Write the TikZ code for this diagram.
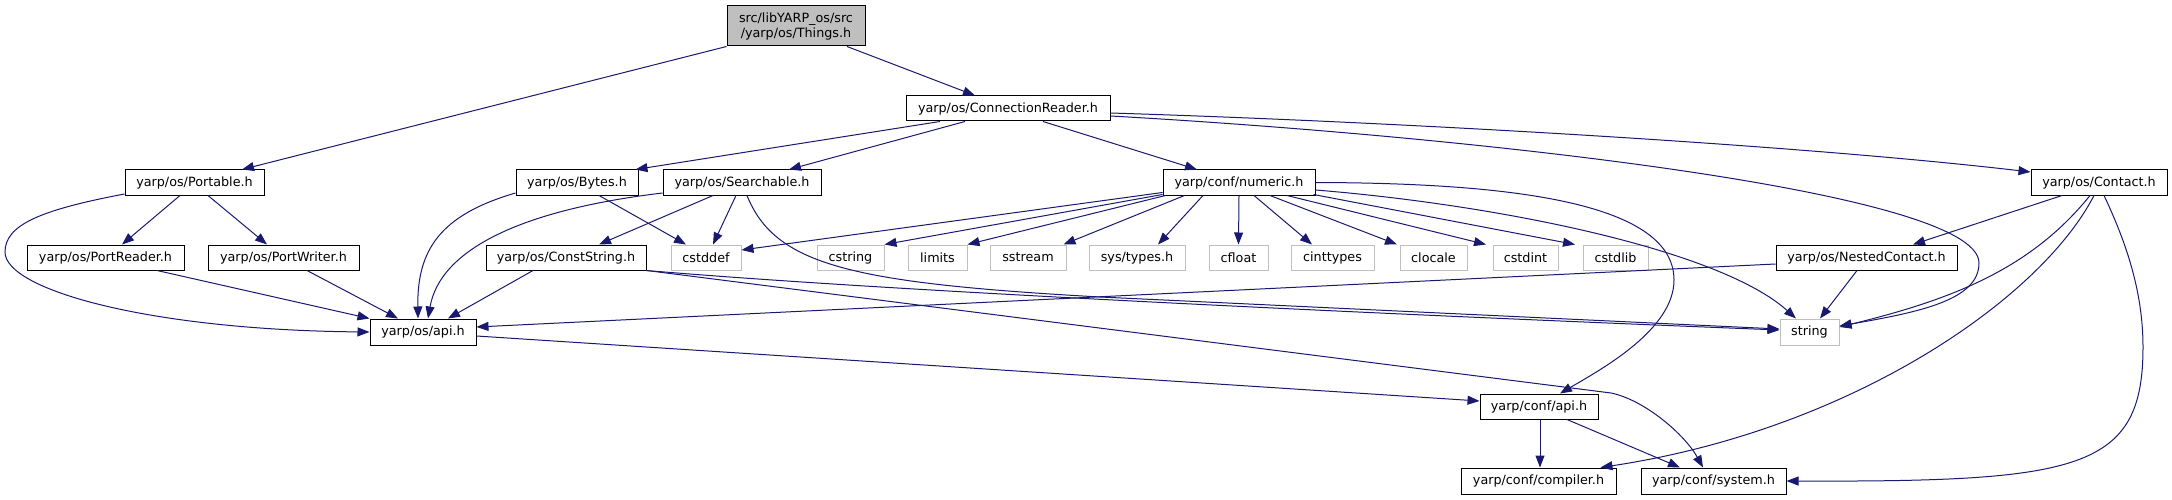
\documentclass[tikz,border=0pt]{standalone}
\usepackage{fontspec}
\setmainfont{DejaVu Sans}
\usetikzlibrary{arrows.meta,calc}
\definecolor{edgec}{HTML}{191970}
\definecolor{greyline}{HTML}{BFBFBF}
\begin{document}
\begin{tikzpicture}[x=1pt,y=-1pt,
  every node/.style={font=\fontsize{12.75}{15}\selectfont},
  nb/.style={draw=black, line width=1pt, rectangle, inner sep=0pt, minimum height=25pt, fill=white},
  gb/.style={nb, draw=greyline},
  e/.style={draw=edgec, line width=1pt, -{Triangle[length=12pt,width=9pt]}}]
\useasboundingbox (0,0) rectangle (2172,500);
% nodes
\node[nb, fill=greyline, minimum width=138pt, minimum height=40pt, align=center] (things) at (796,26) {src/libYARP\_os/src\\/yarp/os/Things.h};
\node[nb, minimum width=204pt] (cr) at (1008,108.5) {yarp/os/ConnectionReader.h};
\node[nb, minimum width=139pt] (portable) at (194.5,182.5) {yarp/os/Portable.h};
\node[nb, minimum width=122pt] (bytes) at (577,182.5) {yarp/os/Bytes.h};
\node[nb, minimum width=158pt] (searchable) at (742,182.5) {yarp/os/Searchable.h};
\node[nb, minimum width=152pt] (numeric) at (1239,182.5) {yarp/conf/numeric.h};
\node[nb, minimum width=136pt] (contact) at (2099,182.5) {yarp/os/Contact.h};
\node[nb, minimum width=157pt] (portreader) at (105.5,257.5) {yarp/os/PortReader.h};
\node[nb, minimum width=151pt] (portwriter) at (283.5,257.5) {yarp/os/PortWriter.h};
\node[nb, minimum width=160pt] (conststring) at (566,257.5) {yarp/os/ConstString.h};
\node[gb, minimum width=70pt] (cstddef) at (706,257.5) {cstddef};
\node[gb, minimum width=67pt] (cstring) at (850.5,257.5) {cstring};
\node[gb, minimum width=59pt] (limits) at (937.5,257.5) {limits};
\node[gb, minimum width=76pt] (sstream) at (1028,257.5) {sstream};
\node[gb, minimum width=96pt] (systypes) at (1137,257.5) {sys/types.h};
\node[gb, minimum width=59pt] (cfloat) at (1238.5,257.5) {cfloat};
\node[gb, minimum width=83pt] (cinttypes) at (1332.5,257.5) {cinttypes};
\node[gb, minimum width=67pt] (clocale) at (1433.5,257.5) {clocale};
\node[gb, minimum width=65pt] (cstdint) at (1525.5,257.5) {cstdint};
\node[gb, minimum width=65pt] (cstdlib) at (1615.5,257.5) {cstdlib};
\node[nb, minimum width=181pt] (nested) at (1866.5,257.5) {yarp/os/NestedContact.h};
\node[nb, minimum width=106pt, minimum height=26pt] (osapi) at (423,332) {yarp/os/api.h};
\node[gb, minimum width=59pt, minimum height=26pt] (string) at (1809.5,332) {string};
\node[nb, minimum width=118pt] (confapi) at (1539,406.5) {yarp/conf/api.h};
\node[nb, minimum width=155pt, minimum height=26pt] (compiler) at (1538.5,481) {yarp/conf/compiler.h};
\node[nb, minimum width=145pt, minimum height=26pt] (system) at (1713.5,481) {yarp/conf/system.h};
% edges
\draw[e] (things.south west) -- ($(portable.north)+(47.5,0)$);
\draw[e] ($(things.south)+(51,0)$) -- ($(cr.north)+(-33,0)$);
\draw[e] ($(cr.south)+(-68,0)$) -- ($(bytes.north east)+(-3,0)$);
\draw[e] ($(cr.south)+(-43,0)$) -- ($(searchable.north)+(47,0)$);
\draw[e] ($(cr.south)+(35,0)$) -- ($(numeric.north)+(-42,0)$);
\draw[e] ($(cr.east)+(0,4.5)$) .. controls (1400,122) and (1800,145) .. ($(contact.west)+(0,-10.5)$);
\draw[e] ($(cr.east)+(0,7.5)$) .. controls (1450,135) and (1979,190) .. (1979,263) .. controls (1979,300) and (1920,312) .. ($(string.east)+(0,-6)$);
\draw[e] ($(contact.south)+(-37,0)$) -- ($(nested.north)+(46.5,0)$);
\draw[e] ($(contact.south)+(-9,0)$) .. controls (2030,270) and (1950,300) .. ($(string.east)+(0,-5)$);
\draw[e] ($(contact.south)+(-5,0)$) .. controls (2040,300) and (1850,430) .. ($(compiler.north east)+(-16,0)$);
\draw[e] ($(contact.south)+(5,0)$) .. controls (2125,240) and (2143,290) .. (2143,347) .. controls (2143,470) and (2080,482) .. (system.east);
\draw[e] ($(nested.west)+(0,6.5)$) -- ($(osapi.east)+(0,-5)$);
\draw[e] ($(nested.south)+(-9.5,0)$) -- ($(string.north)+(10.5,0)$);
\draw[e] ($(numeric.south west)+(0,-3)$) -- ($(cstddef.east)+(0,-7.5)$);
\draw[e] ($(numeric.south west)+(0,-1)$) -- (cstring.north east);
\draw[e] ($(numeric.south west)+(3,0)$) -- (limits.north east);
\draw[e] ($(numeric.south west)+(22,0)$) -- ($(sstream.north east)+(-3,0)$);
\draw[e] ($(numeric.south)+(-36,0)$) -- ($(systypes.north)+(21,0)$);
\draw[e] (numeric.south) -- (cfloat.north);
\draw[e] ($(numeric.south)+(15,0)$) -- ($(cinttypes.north)+(-20.5,0)$);
\draw[e] ($(numeric.south)+(31,0)$) -- ($(clocale.north)+(-36.5,0)$);
\draw[e] ($(numeric.south)+(48,0)$) -- ($(cstdint.north)+(-39.5,0)$);
\draw[e] ($(numeric.south east)+(-2,-1)$) -- ($(cstdlib.north)+(-40.5,0)$);
\draw[e] ($(numeric.east)+(0,7.5)$) .. controls (1500,205) and (1720,250) .. ($(string.north)+(-13.5,0)$);
\draw[e] (numeric.east) .. controls (1500,183) and (1674,200) .. (1674,280) .. controls (1674,330) and (1600,370) .. ($(confapi.north)+(21,0)$);
\draw[e] ($(searchable.south)+(-6,0)$) -- ($(cstddef.north)+(7,0)$);
\draw[e] ($(searchable.south)+(-29,0)$) -- ($(conststring.north)+(33,0)$);
\draw[e] ($(bytes.south)+(22,0)$) -- ($(cstddef.north)+(-20,0)$);
\draw[e] ($(searchable.south)+(5,0)$) .. controls (775,265) and (850,283) .. (1100,297) -- ($(string.west)+(0,-3)$);
\draw[e] (conststring.south east) .. controls (900,292) and (1400,315) .. ($(string.west)+(0,-2)$);
\draw[e] (conststring.south east) -- (1611,393) .. controls (1645,400) and (1685,435) .. ($(system.north)+(-10.5,0)$);
\draw[e] ($(conststring.south)+(-33,0)$) -- ($(osapi.north)+(25,0)$);
\draw[e] ($(bytes.west)+(0,10.5)$) .. controls (440,215) and (417,250) .. ($(osapi.north)+(-5,0)$);
\draw[e] ($(searchable.west)+(0,10.5)$) .. controls (520,210) and (440,250) .. ($(osapi.north)+(5,0)$);
\draw[e] ($(portreader.south)+(51.5,0)$) -- (osapi.north west);
\draw[e] ($(portwriter.south)+(23.5,0)$) -- ($(osapi.north)+(-25,0)$);
\draw[e] ($(portable.west)+(0,11.5)$) .. controls (40,210) and (5,225) .. (5,252) .. controls (5,290) and (150,330) .. (osapi.west);
\draw[e] ($(portable.south)+(-14.5,0)$) -- ($(portreader.north)+(16.5,0)$);
\draw[e] ($(portable.south)+(13.5,0)$) -- ($(portwriter.north)+(-16.5,0)$);
\draw[e] ($(osapi.east)+(0,4)$) -- ($(confapi.west)+(0,-5.5)$);
\draw[e] ($(confapi.south)+(1,0)$) -- ($(compiler.north)+(1.5,0)$);
\draw[e] ($(confapi.south)+(28,0)$) -- ($(system.north)+(-33.5,0)$);
\end{tikzpicture}
\end{document}
